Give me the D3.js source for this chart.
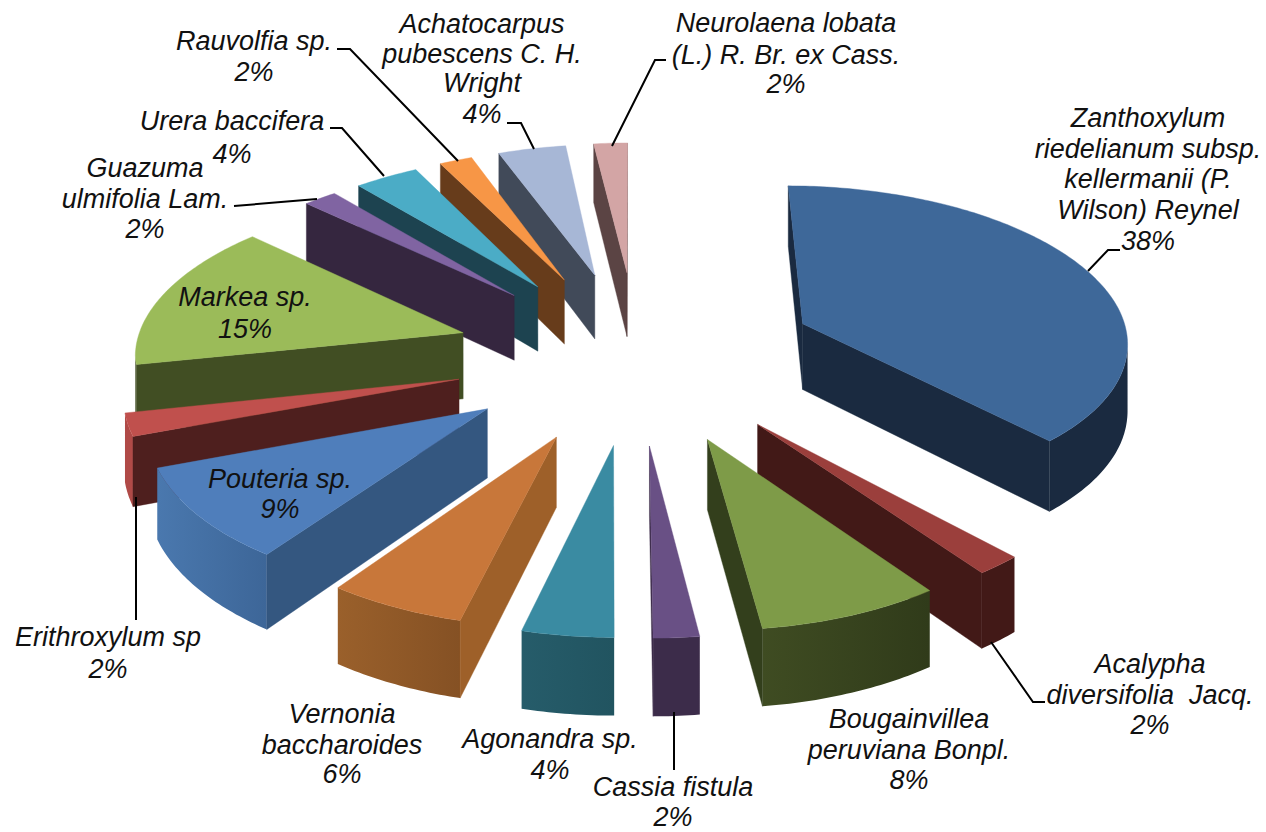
<!DOCTYPE html>
<html><head><meta charset="utf-8">
<script src="https://cdn.jsdelivr.net/npm/d3@7/dist/d3.min.js"></script>
<style>html,body{margin:0;padding:0;background:#fff}svg{display:block}</style>
</head><body><svg id="c" width="1266" height="832"></svg>
<script>
// DATA
const categories = ["Zanthoxylum riedelianum subsp. kellermanii (P. Wilson) Reynel","Acalypha diversifolia Jacq.","Bougainvillea peruviana Bonpl.","Cassia fistula","Agonandra sp.","Vernonia baccharoides","Pouteria sp.","Erithroxylum sp","Markea sp.","Guazuma ulmifolia Lam.","Urera baccifera","Rauvolfia sp.","Achatocarpus pubescens C. H. Wright","Neurolaena lobata (L.) R. Br. ex Cass."];
const values = [38,2,8,2,4,6,9.4,2.3,15,1.8,3.6,1.9,4,2];

// STYLE
const topColors = ["#3E6899","#9B3F3C","#7E9B48","#695085","#3A8BA2","#C8773A","#4F7EBB","#C0504D","#9BBB59","#8064A2","#4BACC6","#F79646","#A7B7D6","#D3A5A5"];
const radialColors = ["#1A2A40","#421917","#333F1C","#3C2C4A","#235865","#9E6029","#345780","#4E1F1E","#414E23","#35263F","#1D4350","#673C1B","#414A59","#5B4444"];
const outerLeft = ["#1A2A40","#421917","#3F4C22","#3C2C4A","#265C6A","#9A602B","#4A78AE","#B04A47","#414E23","#35263F","#1D4350","#673C1B","#414A59","#5B4444"];
const outerRight = ["#1A2A40","#421917","#303B1A","#3C2C4A","#215460","#855124","#3D6698","#B04A47","#414E23","#35263F","#1D4350","#673C1B","#414A59","#5B4444"];

// LAYOUT
const cy=355, R=330, E=183, tilt=0.473, persp=0.00028, depth=67;
const xScale = d3.scaleLinear().domain([-510,-350,0,510]).range([0.82,0.893,0.995,1.13]);
const xCenter = d3.scaleLinear().domain([-510,-400,0,500]).range([637,640,636,640]);
const labelLayout = [
 {x:1148,lines:[["Zanthoxylum",127],["riedelianum subsp.",158],["kellermanii (P.",188],["Wilson) Reynel",219],["38%",250]]},
 {x:1150,lines:[["Acalypha",673],["diversifolia  Jacq.",704],["2%",734]]},
 {x:909,lines:[["Bougainvillea",728],["peruviana Bonpl.",759],["8%",789]]},
 {x:673,lines:[["Cassia fistula",796],["2%",826]]},
 {x:550,lines:[["Agonandra sp.",748],["4%",779]]},
 {x:342,lines:[["Vernonia",723],["baccharoides",754],["6%",783]]},
 {x:280,lines:[["Pouteria sp.",488],["9%",518]]},
 {x:108,lines:[["Erithroxylum sp",646],["2%",678]]},
 {x:245,lines:[["Markea sp.",306],["15%",338]]},
 {x:145,lines:[["Guazuma",177],["ulmifolia Lam.",208],["2%",238]]},
 {x:232,lines:[["Urera baccifera",130],["4%",163]]},
 {x:254,lines:[["Rauvolfia sp.",50],["2%",81]]},
 {x:482,lines:[["Achatocarpus",33],["pubescens C. H.",63],["Wright",92],["4%",123]]},
 {x:786,lines:[["Neurolaena lobata",32],["(L.) R. Br. ex Cass.",64],["2%",93]]}
];
const leaders = [
 [[1088,271],[1108,250],[1120,250]],
 [[991,642],[1033,702],[1045,702]],
 [[674,712],[674,770]],
 [[136,497],[136,620]],
 [[234,206],[317,199]],
 [[330,128],[342,128],[384,176]],
 [[337,49],[350,49],[458,161]],
 [[507,123],[521,123],[534,149]],
 [[666,60],[655,60],[612,146]]
];

const svg = d3.select("#c");
const defs = svg.append("defs");
const slices = d3.pie().sort(null).value(d=>d).startAngle(0).endAngle(2*Math.PI)(values);
const project = (X,Y,z=0) => {
  const s=1/(1-persp*Y);
  return [xCenter(Y)+X*xScale(Y), cy+tilt*Y*s+z*s];
};
const path = d3.line();
const area2 = pts => pts.reduce((a,p,i)=>{const q=pts[(i+1)%pts.length];return a+p[0]*q[1]-q[0]*p[1];},0);

const geo = slices.map((d,i)=>{
  const mid=(d.startAngle+d.endAngle)/2;
  const ox=E*Math.sin(mid), oy=-E*Math.cos(mid);
  const n=Math.max(6,Math.ceil((d.endAngle-d.startAngle)/0.015));
  const arc=d3.range(n+1).map(k=>d.startAngle+(d.endAngle-d.startAngle)*k/n);
  const pt=a=>[ox+R*Math.sin(a), oy-R*Math.cos(a)];
  return {i,ox,oy,arc,pt};
}).sort((a,b)=>a.oy-b.oy);

const quad=(A,B)=>[project(A[0],A[1]),project(B[0],B[1]),project(B[0],B[1],depth),project(A[0],A[1],depth)];

geo.forEach(g=>{
  const layer=svg.append("g");
  const apex=[g.ox,g.oy];
  const rim=g.arc.map(g.pt);
  const run=rim.filter((p,k)=>{
    const a=k<rim.length-1&&area2(quad(p,rim[k+1]))<0;
    const b=k>0&&area2(quad(rim[k-1],p))<0;
    return a||b;
  });
  if(run.length>1){
    const upper=run.map(p=>project(p[0],p[1]));
    const lower=run.map(p=>project(p[0],p[1],depth)).reverse();
    const xs=upper.map(p=>p[0]);
    const id="wall"+g.i;
    const grad=defs.append("linearGradient").attr("id",id).attr("gradientUnits","userSpaceOnUse")
      .attr("x1",d3.min(xs)).attr("x2",d3.max(xs)).attr("y1",0).attr("y2",0);
    grad.append("stop").attr("offset",0).attr("stop-color",outerLeft[g.i]);
    grad.append("stop").attr("offset",1).attr("stop-color",outerRight[g.i]);
    layer.append("path").attr("d",path([...upper,...lower])+"Z").attr("fill",`url(#${id})`);
  }
  [[apex,rim[0]],[rim[rim.length-1],apex]].forEach(([A,B])=>{
    const pts=quad(A,B);
    if(area2(pts)<0) layer.append("path").attr("d",path(pts)+"Z").attr("fill",radialColors[g.i]).attr("stroke",radialColors[g.i]).attr("stroke-width",0.4);
  });
  const top=[project(g.ox,g.oy),...rim.map(p=>project(p[0],p[1]))];
  layer.append("path").attr("d",path(top)+"Z").attr("fill",topColors[g.i]).attr("stroke",topColors[g.i]).attr("stroke-width",0.4);
});

svg.append("g").selectAll("path").data(leaders).join("path")
  .attr("d",d=>path(d)).attr("fill","none").attr("stroke","#000").attr("stroke-width",2);

const tg=svg.append("g").attr("font-family","'Liberation Sans',Arial,sans-serif").attr("font-style","italic").attr("font-size",27).attr("fill","#111").attr("text-anchor","middle");
labelLayout.forEach(l=>l.lines.forEach(([t,y])=>{
  tg.append("text").attr("x",l.x).attr("y",y).style("white-space","pre").text(t);
}));
</script></body></html>
